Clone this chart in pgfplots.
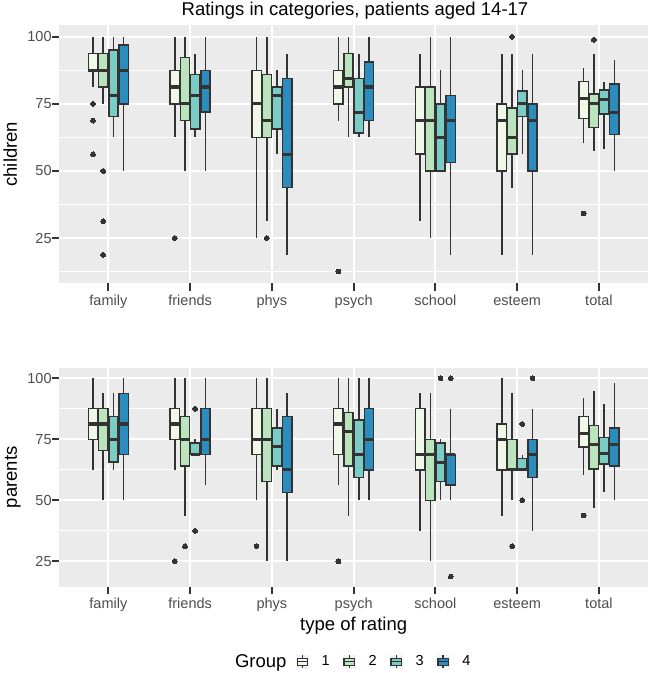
\documentclass[border=0pt]{standalone}
\usepackage{fontspec}
\setmainfont{Liberation Sans}
\usepackage{pgfplots}
\pgfplotsset{compat=1.18}
\usepgfplotslibrary{statistics}

\definecolor{panelbg}{HTML}{EBEBEB}
\definecolor{c20}{HTML}{333333}
\definecolor{c30}{HTML}{4D4D4D}
\definecolor{kbg}{HTML}{F2F2F2}
\definecolor{ga}{HTML}{F0F9E8}
\definecolor{gb}{HTML}{BAE4BC}
\definecolor{gc}{HTML}{7BCCC4}
\definecolor{gd}{HTML}{2B8CBE}

\newcommand\ticksize{\fontsize{14.5bp}{17bp}\selectfont}
\newcommand\labsize{\fontsize{18.5bp}{22bp}\selectfont}

% #1 position, #2 fill, #3 lower whisker, #4 Q1, #5 median, #6 Q3, #7 upper whisker, #8 outliers
\newcommand\bx[8]{%
  \addplot[forget plot, boxplot prepared={draw position=#1, lower whisker=#3,
      lower quartile=#4, median=#5, upper quartile=#6, upper whisker=#7},
    draw=c20, fill=#2, line width=1.5bp, mark=*, mark size=2.4bp,
    mark options={solid, fill=c20, draw=c20, line width=0pt}]
    coordinates {#8};}

\newcommand\keyimg[1]{%
  \addlegendimage{legend image code/.code={%
    \fill[kbg] (0bp,-6.5bp) rectangle (12.5bp,6.5bp);
    \draw[c20, line width=1.1bp] (6.25bp,-6.5bp) -- (6.25bp,6.5bp);
    \filldraw[fill=#1, draw=c20, line width=1.1bp] (1.2bp,-3.6bp) rectangle (11.3bp,3.6bp);
    \draw[c20, line width=1.6bp] (1.2bp,0bp) -- (11.3bp,0bp);}}}

\pgfplotsset{
  panel/.style={
    scale only axis, width=588.7bp,
    xmin=0.4, xmax=7.6,
    axis background/.style={fill=panelbg},
    axis line style={draw=none},
    xtick={1,2,3,4,5,6,7},
    xticklabels={family,friends,phys,psych,school,esteem,total},
    ytick={25,50,75,100},
    minor ytick={12.5,37.5,62.5,87.5},
    xmajorgrids, ymajorgrids, yminorgrids,
    major grid style={white, line width=2bp},
    minor grid style={white, line width=1bp},
    tick align=outside, xtick pos=bottom, ytick pos=left,
    major tick length=7.5bp, minor tick length=0pt,
    every tick/.style={c20, line width=2bp},
    /pgf/number format/assume math mode=true,
    tick label style={font=\ticksize, text=c30, inner sep=0pt},
    xticklabel style={anchor=north, text height=10.4bp, text depth=3bp, yshift=-4bp},
    yticklabel style={anchor=east},
    every axis y label/.style={at={(axis description cs:-0.0719,0.5)}, anchor=base, rotate=90, font=\labsize},
    every axis x label/.style={at={(axis description cs:0.5,-0.2021)}, anchor=base, font=\labsize},
    boxplot/draw direction=y,
    boxplot/box extend=0.115,
    boxplot/whisker extend=0,
    boxplot/every median/.style={line width=3.2bp},
  }
}

\begin{document}
\begin{tikzpicture}
\path[use as bounding box] (0bp,0bp) rectangle (649bp,-673bp);

\node[anchor=base, font=\labsize] at (355bp,-15.3bp) {Ratings in categories, patients aged 14-17};

% ---------------- children ----------------
\begin{axis}[panel, at={(59.3bp,-283.3bp)}, anchor=south west,
  height=258.3bp, ymin=8.125, ymax=104.375, ylabel={children}]
% family
\bx{0.8125}{ga}{81.25}{87.5}{87.5}{93.75}{100}{(0,75) (0,68.75) (0,56.25)}
\bx{0.9375}{gb}{75}{81.25}{87.5}{93.75}{100}{(0,50) (0,31.25) (0,18.75)}
\bx{1.0625}{gc}{62.5}{70.3}{78.1}{95}{100}{}
\bx{1.1875}{gd}{50}{75}{87.5}{96.9}{100}{}
% friends
\bx{1.8125}{ga}{62.5}{75}{81.25}{87.5}{100}{(0,25)}
\bx{1.9375}{gb}{50}{68.75}{75}{92.2}{100}{}
\bx{2.0625}{gc}{62.5}{65.6}{78.1}{85.9}{93.75}{}
\bx{2.1875}{gd}{50}{71.9}{81.25}{87.5}{100}{}
% phys
\bx{2.8125}{ga}{25}{62.5}{75}{87.5}{100}{}
\bx{2.9375}{gb}{31.25}{62.5}{68.75}{85.9}{100}{(0,25)}
\bx{3.0625}{gc}{56.25}{65.6}{78.1}{81.25}{87.5}{}
\bx{3.1875}{gd}{18.75}{43.75}{56.25}{84.4}{93.75}{}
% psych
\bx{3.8125}{ga}{68.75}{75}{81.25}{87.5}{100}{(0,12.5)}
\bx{3.9375}{gb}{62.5}{81.25}{84.4}{93.75}{100}{}
\bx{4.0625}{gc}{62.5}{64.1}{71.9}{84.4}{93.75}{}
\bx{4.1875}{gd}{62.5}{68.75}{81.25}{90.6}{100}{}
% school
\bx{4.8125}{ga}{31.25}{56.25}{68.75}{81.25}{93.75}{}
\bx{4.9375}{gb}{25}{50}{68.75}{81.25}{100}{}
\bx{5.0625}{gc}{50}{50}{62.5}{75}{87.5}{}
\bx{5.1875}{gd}{18.75}{53.1}{68.75}{78.1}{100}{}
% esteem
\bx{5.8125}{ga}{18.75}{50}{68.75}{75}{93.75}{}
\bx{5.9375}{gb}{43.75}{56.25}{62.5}{73.4}{93.75}{(0,100)}
\bx{6.0625}{gc}{56.25}{70.3}{75}{79.7}{87.5}{}
\bx{6.1875}{gd}{18.75}{50}{68.75}{75}{93.75}{}
% total
\bx{6.8125}{ga}{60.4}{69.5}{77.0}{83.3}{88.4}{(0,34.1)}
\bx{6.9375}{gb}{57.3}{66.2}{75}{78.7}{93.6}{(0,98.9)}
\bx{7.0625}{gc}{58.2}{71.2}{76.6}{80.1}{83.3}{}
\bx{7.1875}{gd}{50}{63.5}{71.8}{82.3}{91.5}{}
\end{axis}

% ---------------- parents ----------------
\begin{axis}[panel, at={(59.3bp,-586.5bp)}, anchor=south west,
  height=218.2bp, ymin=14.6875, ymax=104.0625, ylabel={parents},
  xlabel={type of rating},
  legend columns=4,
  legend style={at={(axis description cs:0.4012,-0.3445)}, anchor=west,
    draw=none, fill=none, inner sep=0pt, font=\ticksize, text=black,
    nodes={inner sep=0pt},
    /tikz/every odd column/.append style={column sep=13bp},
    /tikz/every even column/.append style={column sep=13bp}}]
\keyimg{ga}\addlegendentry{1}
\keyimg{gb}\addlegendentry{2}
\keyimg{gc}\addlegendentry{3}
\keyimg{gd}\addlegendentry{4}
% family
\bx{0.8125}{ga}{62.5}{75}{81.25}{87.5}{100}{}
\bx{0.9375}{gb}{50}{70.3}{81.25}{87.5}{93.75}{}
\bx{1.0625}{gc}{62.5}{65.6}{75}{84.4}{93.75}{}
\bx{1.1875}{gd}{50}{68.75}{81.25}{93.75}{100}{}
% friends
\bx{1.8125}{ga}{62.5}{75}{81.25}{87.5}{100}{(0,25)}
\bx{1.9375}{gb}{43.75}{64.1}{75}{84.4}{100}{(0,31.25)}
\bx{2.0625}{gc}{68.75}{68.75}{68.75}{73.4}{75}{(0,87.5) (0,37.5)}
\bx{2.1875}{gd}{56.25}{68.75}{75}{87.5}{100}{}
% phys
\bx{2.8125}{ga}{50}{68.75}{75}{87.5}{100}{(0,31.25)}
\bx{2.9375}{gb}{25}{57.8}{75}{87.5}{100}{}
\bx{3.0625}{gc}{62.5}{64.1}{71.9}{79.7}{87.5}{}
\bx{3.1875}{gd}{25}{53.1}{62.5}{84.4}{93.75}{}
% psych
\bx{3.8125}{ga}{56.25}{68.75}{81.25}{87.5}{100}{(0,25)}
\bx{3.9375}{gb}{43.75}{64.1}{78.1}{85.9}{100}{}
\bx{4.0625}{gc}{50}{59.4}{68.75}{82.8}{100}{}
\bx{4.1875}{gd}{50}{62.5}{75}{87.5}{100}{}
% school
\bx{4.8125}{ga}{37.5}{62.5}{68.75}{87.5}{93.75}{}
\bx{4.9375}{gb}{25}{50}{68.75}{75}{93.75}{}
\bx{5.0625}{gc}{50}{57.8}{65.6}{73.4}{75}{(0,100)}
\bx{5.1875}{gd}{50}{56.25}{68.75}{68.75}{87.5}{(0,100) (0,18.75)}
% esteem
\bx{5.8125}{ga}{43.75}{62.5}{75}{81.25}{100}{}
\bx{5.9375}{gb}{50}{62.5}{62.5}{75}{93.75}{(0,31.25)}
\bx{6.0625}{gc}{62.5}{62.5}{62.5}{67.2}{68.75}{(0,81.25) (0,50)}
\bx{6.1875}{gd}{37.5}{59.4}{68.75}{75}{87.5}{(0,100)}
% total
\bx{6.8125}{ga}{60.4}{71.9}{77.3}{84.4}{91.7}{(0,43.75)}
\bx{6.9375}{gb}{46.9}{62.9}{72.9}{80.6}{94.8}{}
\bx{7.0625}{gc}{53.2}{64.8}{69.1}{75.8}{89.6}{}
\bx{7.1875}{gd}{50}{64.1}{72.9}{79.7}{97.9}{}
\end{axis}

\node[anchor=base west, font=\labsize] at (231.5bp,-667bp) {Group};
\end{tikzpicture}
\end{document}
